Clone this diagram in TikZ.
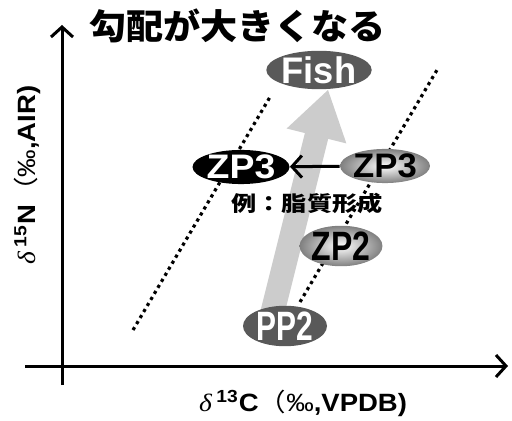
\documentclass[tikz,border=0pt]{standalone}
\usepackage{fontspec}
\setmainfont{Noto Sans CJK JP}
\newfontfamily\lat{Liberation Sans}
\newfontfamily\greek{Liberation Serif}
\usetikzlibrary{arrows.meta,shapes.geometric,backgrounds}
\newcommand{\stretchx}[2][1.3]{\scalebox{#1}[1]{#2}}
\tikzset{
  axis/.style={line width=1.5pt,-{Straight Barb[length=5pt,width=11pt,line width=1.5pt]}},
  guide/.style={line width=1.6pt,dash pattern=on 1.6pt off 1.9pt},
  blob/.style={ellipse,inner sep=0pt},
  darkblob/.style={blob,fill=black!65,text=white},
  shadeblob/.style={blob,shading=radial,inner color=white,outer color=black!50},
  lab/.style={font=\lat\bfseries\fontsize{12.5}{13}\selectfont},
}
\begin{document}
\begin{tikzpicture}[x=0.5pt,y=-0.5pt,line join=round]
\useasboundingbox (0,0) rectangle (512,421);
% axes
\draw[axis] (62,385) -- (62,25);
\draw[axis] (25,366) -- (508,366);
\node[lab] (xlab) at (303,403)
  {\stretchx[1.1]{{\greek\itshape\mdseries δ}\,\textsuperscript{13}C{\rmfamily\mdseries（}{\mdseries‰},VPDB)}};
\node[lab,rotate=90] (ylab) at (27,175)
  {\stretchx[1.1]{{\greek\itshape\mdseries δ}\,\textsuperscript{15}N{\rmfamily\mdseries（}{\mdseries‰},AIR)}};
\node[font=\bfseries\fontsize{17.5}{18}\selectfont,anchor=west] (title) at (82,26)
  {\stretchx[1.06]{勾配が大きくなる}};
% dotted guides
\draw[guide] (133,330) -- (270,97);
\draw[guide] (300,302) -- (437,70);
% groups
\node[darkblob,minimum width=51pt,minimum height=17pt,
  font=\lat\bfseries\fontsize{18.5}{19}\selectfont] (fish) at (319,70) {\stretchx[0.98]{Fish}};
\node[blob,fill=black,text=white,minimum width=41pt,minimum height=12pt,
  font=\lat\bfseries\fontsize{17}{17}\selectfont] (zpL) at (241,167) {\stretchx[1.1]{ZP3}};
\node[shadeblob,minimum width=33pt,minimum height=13pt,
  font=\lat\bfseries\fontsize{17}{17}\selectfont] (zpR) at (385,166) {\stretchx[1.02]{ZP3}};
\node[shadeblob,minimum width=39pt,minimum height=14pt,
  font=\lat\bfseries\fontsize{20.5}{21}\selectfont] (zp2) at (341,246) {\stretchx[0.78]{ZP2}};
\node[darkblob,minimum width=42pt,minimum height=14pt,
  font=\lat\bfseries\fontsize{20.5}{21}\selectfont] (pp2) at (285,326) {\stretchx[0.73]{PP2}};
\node[font=\bfseries\fontsize{10.5}{11}\selectfont] (note) at (307,204)
  {\stretchx[1.2]{例：脂質形成}};
% arrows
\draw[line width=1.5pt,-{Straight Barb[length=5pt,width=11pt,line width=1.5pt]}] (zpR) -- (zpL);
\begin{scope}[on background layer]
  \draw[black!20,line width=12pt,shorten >=10pt,
    -{Triangle[length=24pt,width=29pt]}]
    ([xshift=-8pt]pp2.center) -- ([xshift=7pt]fish.center);
\end{scope}
\end{tikzpicture}
\end{document}
